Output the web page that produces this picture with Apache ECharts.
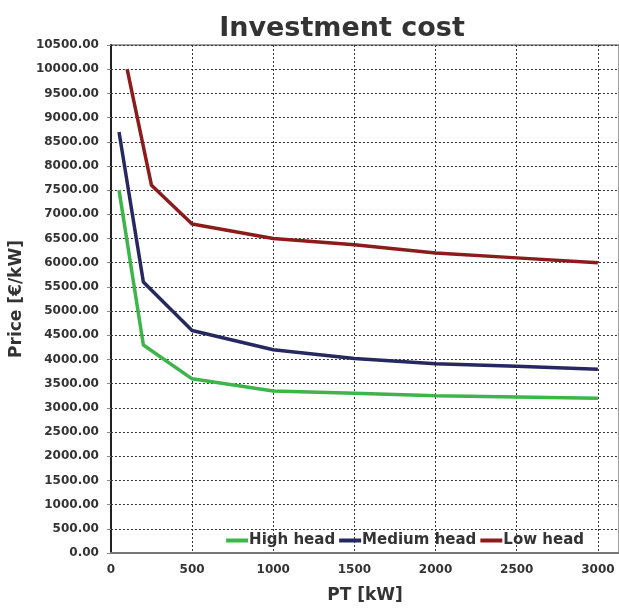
<!DOCTYPE html>
<html><head><meta charset="utf-8">
<script src="https://cdn.jsdelivr.net/npm/echarts@6/dist/echarts.min.js"></script>
<style>html,body{margin:0;padding:0;background:#fff}#c{width:619px;height:609px}</style>
</head><body><div id="c"></div>
<script>
const highX = [50, 200, 500, 1000, 1500, 2000, 2500, 3000];
const highY = [7500, 4300, 3600, 3350, 3300, 3250, 3225, 3200];
const medX = [50, 200, 500, 1000, 1500, 2000, 2500, 3000];
const medY = [8700, 5600, 4600, 4200, 4020, 3910, 3860, 3800];
const lowX = [100, 250, 500, 1000, 1500, 2000, 2500, 3000];
const lowY = [10000, 7600, 6800, 6500, 6370, 6200, 6100, 6000];
const seriesNames = ['High head', 'Medium head', 'Low head'];
const colors = ['#3db54a', '#27285f', '#8c1c1c'];

const zip = (xs, ys) => xs.map((x, i) => [x, ys[i]]);
const font = 'DejaVu Sans';
const chart = echarts.init(document.getElementById('c'));
chart.setOption({
  animation: false,
  backgroundColor: '#fff',
  title: {text: 'Investment cost', left: 337, textAlign: 'center', top: 10,
    textStyle: {fontFamily: font, fontWeight: 'bold', fontSize: 27, color: '#333'}},
  legend: {data: seriesNames, right: 30, top: 528, itemWidth: 22, itemHeight: 4, itemGap: 4,
    icon: 'rect',
    textStyle: {fontFamily: font, fontWeight: 'bold', fontSize: 15, color: '#333', padding: [0, 0, 0, -4]}},
  grid: {left: 110, top: 45, right: 0, bottom: 47, show: true, borderColor: '#444', borderWidth: 1},
  xAxis: {type: 'value', min: 0, max: 3130, interval: 500,
    name: 'PT [kW]', nameLocation: 'middle', nameGap: 34,
    nameTextStyle: {fontFamily: font, fontWeight: 'bold', fontSize: 17, color: '#333'},
    axisLine: {onZero: false, lineStyle: {color: '#777', width: 2}},
    axisTick: {show: false},
    axisLabel: {fontFamily: font, fontWeight: 'bold', fontSize: 12, color: '#333', margin: 11,
      showMaxLabel: false, formatter: v => (v % 500 === 0 ? String(v) : '')},
    splitLine: {lineStyle: {color: '#333', type: [2, 2], width: 1}}},
  yAxis: {type: 'value', min: 0, max: 10500, interval: 500,
    name: 'Price [€/kW]', nameLocation: 'middle', nameGap: 81, nameRotate: 90,
    nameTextStyle: {fontFamily: font, fontWeight: 'bold', fontSize: 17, color: '#333'},
    axisLine: {lineStyle: {color: '#222', width: 2}},
    axisTick: {show: true, length: 4, lineStyle: {color: '#888'}},
    axisLabel: {fontFamily: font, fontWeight: 'bold', fontSize: 12, color: '#333', margin: 12,
      formatter: v => v.toFixed(2)},
    splitLine: {lineStyle: {color: '#333', type: [2, 2], width: 1}}},
  series: [
    {name: seriesNames[0], type: 'line', data: zip(highX, highY), showSymbol: false,
      lineStyle: {width: 3.5, color: colors[0]}, itemStyle: {color: colors[0]}},
    {name: seriesNames[1], type: 'line', data: zip(medX, medY), showSymbol: false,
      lineStyle: {width: 3.5, color: colors[1]}, itemStyle: {color: colors[1]}},
    {name: seriesNames[2], type: 'line', data: zip(lowX, lowY), showSymbol: false,
      lineStyle: {width: 3.5, color: colors[2]}, itemStyle: {color: colors[2]}}
  ]
});
</script></body></html>
